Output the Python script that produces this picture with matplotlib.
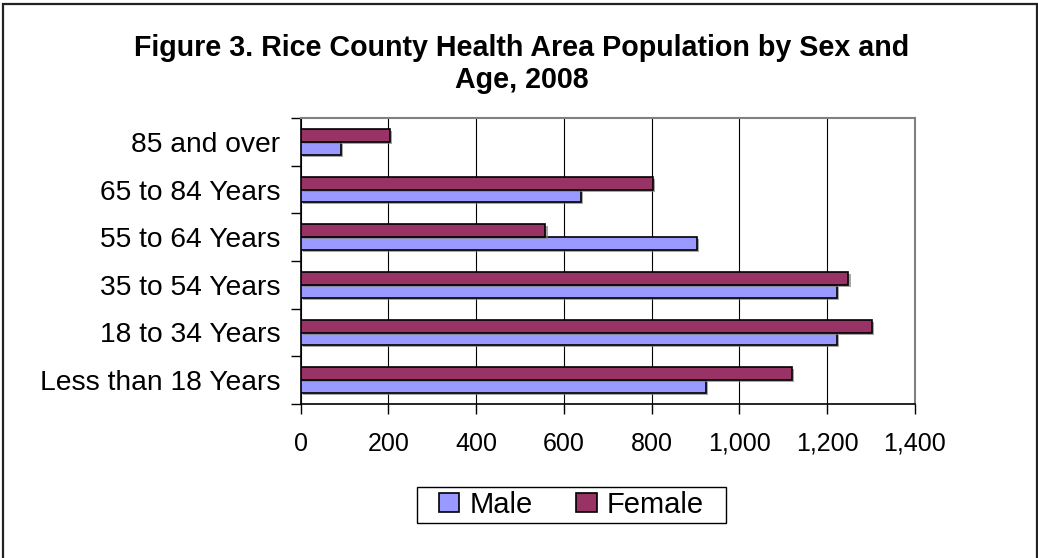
import matplotlib
matplotlib.use("Agg")
import matplotlib.pyplot as plt
import matplotlib.patheffects as pe
from matplotlib.patches import Rectangle
import numpy as np

plt.rcParams['font.family'] = ['Liberation Sans', 'DejaVu Sans']

# data (bottom to top)
age_groups = ["Less than 18 Years", "18 to 34 Years", "35 to 54 Years",
              "55 to 64 Years", "65 to 84 Years", "85 and over"]
male = [924, 1223, 1223, 903, 639, 92]
female = [1120, 1303, 1249, 558, 804, 204]
x_ticks = [0, 200, 400, 600, 800, 1000, 1200, 1400]

male_color = "#9999FF"
female_color = "#993366"

W, H = 1038, 558
fig = plt.figure(figsize=(W / 100, H / 100), dpi=100)
ax = fig.add_axes([300.7 / W, 1 - 404 / H, 614 / W, 286 / H])

y = np.arange(len(age_groups))
bar_h = 0.27
shadow = [pe.SimplePatchShadow(offset=(1.5, -1.5), shadow_rgbFace="gray", alpha=0.7),
          pe.Normal()]
bm = ax.barh(y - bar_h / 2, male, height=bar_h, color=male_color,
             edgecolor="black", linewidth=1.2, label="Male", zorder=3)
bf = ax.barh(y + bar_h / 2, female, height=bar_h, color=female_color,
             edgecolor="black", linewidth=1.2, label="Female", zorder=3)
for b in list(bm) + list(bf):
    b.set_path_effects(shadow)

ax.set_xlim(0, 1400)
ax.set_ylim(-0.5, len(age_groups) - 0.5)
ax.set_xticks(x_ticks)
ax.set_xticklabels([f"{v:,}" for v in x_ticks], fontsize=18)
ax.set_yticks(y)
ax.set_yticklabels(age_groups, fontsize=20.3)
ax.set_yticks(np.arange(-0.5, len(age_groups)), minor=True)
ax.tick_params(axis="y", which="major", length=0, pad=14.5)
ax.tick_params(axis="y", which="minor", length=7, width=1, color="black")
ax.tick_params(axis="x", length=7, width=1, color="black", pad=13)

ax.grid(axis="x", color="black", linewidth=0.8, zorder=0)
ax.set_axisbelow(True)
for side in ("left", "bottom"):
    ax.spines[side].set_color("black")
    ax.spines[side].set_linewidth(1.2)
for side in ("top", "right"):
    ax.spines[side].set_color("#808080")
    ax.spines[side].set_linewidth(1.5)

fig.text(522 / W, 1 - 64 / H,
         "Figure 3. Rice County Health Area Population by Sex and\nAge, 2008",
         ha="center", va="center", fontsize=20.6, fontweight="bold",
         linespacing=1.16)

leg = fig.legend(handles=[bm, bf], labels=["Male", "Female"],
                 loc="center", bbox_to_anchor=(571.5 / W, 1 - 505 / H),
                 ncol=2, fontsize=21, frameon=False,
                 handlelength=0.7, handleheight=0.6,
                 handletextpad=0.35, columnspacing=1.5, borderpad=0.15,
                 borderaxespad=0)
for h in leg.legend_handles:
    h.set_path_effects([])
fig.patches.append(Rectangle((417 / W, 1 - 523 / H), 309 / W, 36 / H,
                             transform=fig.transFigure, fill=False,
                             edgecolor="black", linewidth=1.0))

fig.patches.append(Rectangle((3 / W, -0.01), (W - 4) / W, 1 - 4 / H + 0.01,
                             transform=fig.transFigure, fill=False,
                             edgecolor="#222222", linewidth=1.6))

fig.savefig("out.png", dpi=100)
